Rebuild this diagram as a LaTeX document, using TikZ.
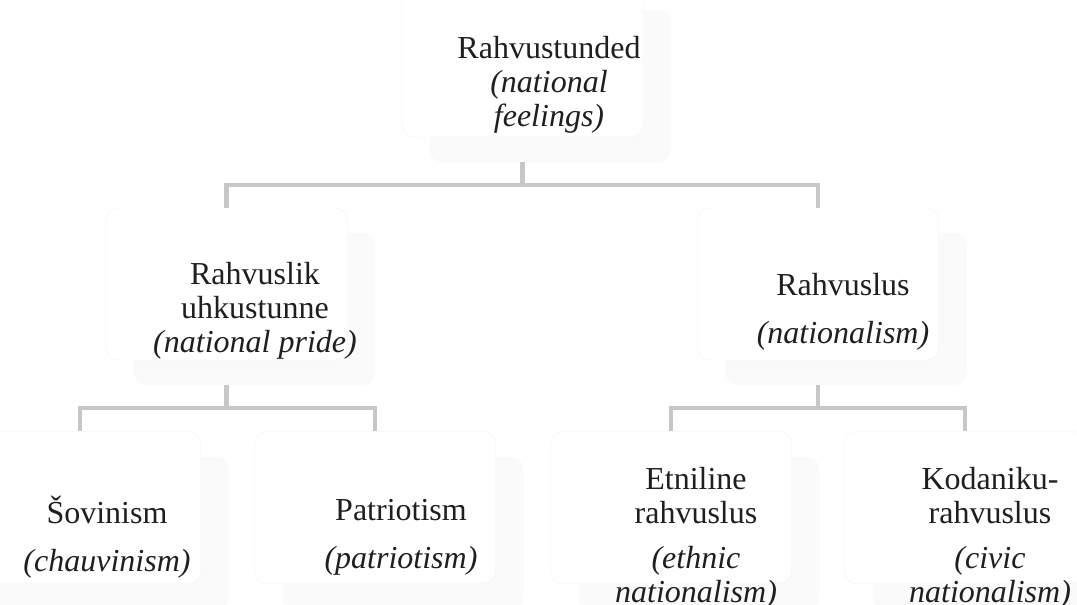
\documentclass[tikz,border=0pt]{standalone}
\usepackage{fontspec}
\setmainfont{Liberation Serif}
\begin{document}
\begin{tikzpicture}[x=1pt,y=-1pt]
\tikzset{
  card/.style={draw=black!5, fill=white, rounded corners=12pt, minimum width=241pt, minimum height=152pt, inner sep=0pt},
  cardbg/.style={fill=black!2, rounded corners=12pt, minimum width=241pt, minimum height=152pt, inner sep=0pt},
  lbl/.style={align=center, font=\fontsize{32}{34}\selectfont, text=black!88, inner sep=0pt},
  conn/.style={draw=black!22, line width=4.5pt, line join=miter},
}
\useasboundingbox (0,0) rectangle (1077,605);
\clip (0,0) rectangle (1077,605);
\fill[white] (0,0) rectangle (1077,605);

% shadow / text panels
\node[cardbg] (s1) at (550.5,86) {};
\node[cardbg] (s2) at (254.5,309) {};
\node[cardbg] (s3) at (846,309) {};
\node[cardbg] (s4) at (108,533) {};
\node[cardbg] (s5) at (403,533) {};
\node[cardbg] (s6) at (699,533) {};
\node[cardbg] (s7) at (993,533) {};

% main cards
\node[card] (b1) at (522.5,61) {};
\node[card] (b2) at (226.5,284) {};
\node[card] (b3) at (818,284) {};
\node[card] (b4) at (80,507.5) {};
\node[card] (b5) at (375,507.5) {};
\node[card] (b6) at (671,507.5) {};
\node[card] (b7) at (965,507.5) {};

% texts
\node[lbl] (t1) at (549,85) {Rahvustunded\\\textit{(national}\\\textit{feelings)}};
\node[lbl] (t2) at (255,311) {Rahvuslik\\uhkustunne\\\textit{(national pride)}};
\node[lbl] (t3) at (843,312) {Rahvuslus\\[14pt]\textit{(nationalism)}};
\node[lbl] (t4) at (107,537) {Šovinism\\[14pt]\textit{(chauvinism)}};
\node[lbl] (t5) at (401,537) {Patriotism\\[14pt]\textit{(patriotism)}};
\node[lbl] (t6) at (696,538) {Etniline\\rahvuslus\\[11pt]\textit{(ethnic}\\\textit{nationalism)}};
\node[lbl] (t7) at (990,538) {Kodaniku-\\rahvuslus\\[11pt]\textit{(civic}\\\textit{nationalism)}};

% connectors
\coordinate (j1) at (522.5,185);
\coordinate (j2) at (226.5,408);
\coordinate (j3) at (818,408);
\draw[conn] (b1.center |- s1.south) -- (j1);
\draw[conn] (b2.north) -- (b2.north |- j1) -- (b3.north |- j1) -- (b3.north);
\draw[conn] (b2.center |- s2.south) -- (j2);
\draw[conn] (b4.north) -- (b4.north |- j2) -- (b5.north |- j2) -- (b5.north);
\draw[conn] (b3.center |- s3.south) -- (j3);
\draw[conn] (b6.north) -- (b6.north |- j3) -- (b7.north |- j3) -- (b7.north);
\end{tikzpicture}
\end{document}
